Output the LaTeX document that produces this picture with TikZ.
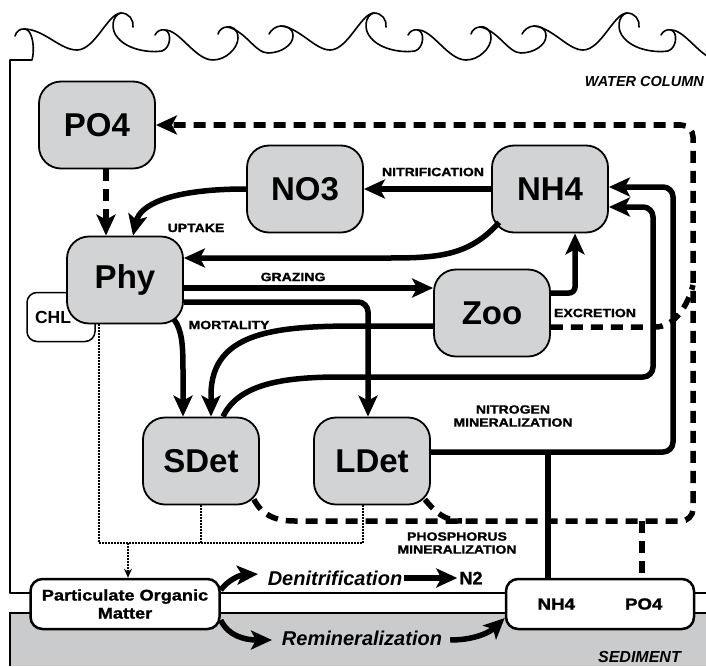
\documentclass[tikz,border=0pt]{standalone}
\usepackage{fontspec}
\setsansfont{Liberation Sans}
\newfontfamily\heavyfont[FakeBold=1.2]{Liberation Sans}
\newcommand{\widetxt}[1]{\scalebox{1.17}[1]{#1}}
\usetikzlibrary{arrows.meta}
\definecolor{boxgray}{RGB}{209,211,212}
\definecolor{sedgray}{RGB}{202,203,205}

\begin{document}
\begin{tikzpicture}[x=1pt,y=-1pt,
    pool/.style={draw, line width=1.8pt, fill=boxgray, rounded corners=22pt, minimum width=116pt, minimum height=87pt, inner sep=0pt, font={\sffamily\bfseries\fontsize{33}{33}\selectfont}},
    whitebox/.style={draw, line width=2.5pt, fill=white, rounded corners=12pt, inner sep=0pt, align=center},
    flux/.style={line width=5.5pt, -{Stealth[length=21pt,width=19pt,inset=5pt]}},
    pflux/.style={flux, dash pattern=on 12pt off 8pt},
    link/.style={line width=5.5pt},
    plink/.style={link, dash pattern=on 12pt off 8pt},
    pomline/.style={line width=1.5pt, dash pattern=on 1.5pt off 1.5pt},
    tag/.style={font={\heavyfont\bfseries\fontsize{12}{13}\selectfont}, align=center, inner sep=0pt},
    process/.style={font={\sffamily\bfseries\itshape\fontsize{20}{20}\selectfont}, inner sep=0pt},
    layer/.style={font={\sffamily\bfseries\itshape\fontsize{14.5}{15}\selectfont}, inner sep=0pt},
    wave/.style={line width=1.6pt, line cap=round, line join=round}
    ]
    \useasboundingbox (0,0) rectangle (706,666);

    % sediment and water column
    \fill[sedgray] (10,613) rectangle (706,666);
    \draw[line width=1.5pt] (706,613) -- (10,613) -- (10,666);
    \begin{scope}
    \clip (0,0) rectangle (706,666);
    \draw[wave] (706,593) -- (10,593) -- (10,60) -- (32,60) .. controls (35,50) and (33,30) .. (25,29) .. controls (20,28) and (16,32) .. (15,36);
    \draw[wave] (25,29) .. controls (45,30) and (60,50) .. (77,50);
    \foreach \s in {120,373,626} {
      \begin{scope}[xshift=\s pt]
      \draw[wave] (-43,50) .. controls (-25,50) and (-12,13) .. (1,13) .. controls (9,13) and (14,20) .. (13,27);
      \draw[wave] (1,13) .. controls (-8,15) and (-10,30) .. (-2,38) .. controls (8,50) and (30,53) .. (42,51) .. controls (51,48) and (52,32) .. (45,30) .. controls (41,29) and (37,31) .. (35,35);
      \draw[wave] (45,30) .. controls (60,30) and (75,60) .. (93,60) .. controls (106,60) and (118,48) .. (118,38) .. controls (118,29) and (112,26) .. (107,27) .. controls (103,27) and (99,30) .. (98,34);
      \draw[wave] (107,27) .. controls (125,30) and (135,53) .. (148,53) .. controls (161,53) and (173,45) .. (173,36) .. controls (173,28) and (167,26) .. (161,26) .. controls (156,26) and (151,30) .. (149,34);
      \draw[wave] (161,26) .. controls (180,28) and (195,50) .. (210,50);
      \end{scope}
    }
    \end{scope}
    \node[layer, anchor=east] (water) at (704,82) {WATER COLUMN};
    \node[layer, anchor=east, font={\sffamily\bfseries\itshape\fontsize{16}{16}\selectfont}] (sediment) at (681,657) {SEDIMENT};

    % pools
    \node[whitebox, rounded corners=10pt, line width=1.5pt, minimum width=68pt, minimum height=49pt, text width=52pt, inner sep=8pt, align=left, font={\sffamily\bfseries\fontsize{17.5}{18}\selectfont}] (CHL) at (61,317) {CHL};
    \node[pool] (PO4) at (97,125) {PO4};
    \node[pool] (NO3) at (305,189) {NO3};
    \node[pool] (NH4) at (550,189) {NH4};
    \node[pool] (Phy) at (125,280) {Phy};
    \node[pool] (Zoo) at (492,313) {Zoo};
    \node[pool] (SDet) at (201,461) {SDet};
    \node[pool] (LDet) at (372,461) {LDet};
    \node[whitebox, minimum width=189pt, minimum height=50pt, font={\heavyfont\bfseries\fontsize{15.5}{18}\selectfont}] (POM) at (125,604) {\widetxt{Particulate Organic}\\\widetxt{Matter}};
    \node[whitebox, minimum width=188pt, minimum height=50pt, font={\heavyfont\bfseries\fontsize{16}{16}\selectfont}] (SedBox) at (600,604) {\widetxt{NH4}\hspace{50pt}\widetxt{PO4}};

    % nitrogen fluxes
    \draw[flux] (NH4.west) -- (NO3.east);
    \draw[flux] (NO3.west) .. controls (170,189) and (140,205) .. ([xshift=8pt]Phy.north);
    \draw[flux] ([xshift=8pt,yshift=11pt]NH4.south west) .. controls (470,255) and (440,258) .. (390,258) -- ([yshift=22pt]Phy.east);
    \draw[flux] ([yshift=-8pt]Phy.east) -- ([yshift=-8pt]Phy.east -| Zoo.west);
    \draw[flux, rounded corners=10pt] ([yshift=-22pt]Phy.east) -- (368,302) -- ([xshift=-4pt]LDet.north);
    \draw[flux] ([xshift=49pt,yshift=5pt]Phy.south) .. controls (182,330) and (183,345) .. (183,370) -- ([xshift=-18pt]SDet.north);
    \draw[flux] ([yshift=-13pt]Zoo.west) -- (360,326) .. controls (280,326) and (211,330) .. (211,395) -- ([xshift=10pt]SDet.north);
    \draw[flux] ([xshift=22pt]SDet.north) .. controls (238,385) and (280,377) .. (340,377) [rounded corners=10pt] -- (653,377) -- (653,207) -- ([yshift=-18pt]NH4.east);
    \draw[flux, rounded corners=10pt] ([yshift=9pt]LDet.east) -- (673,452) -- (673,187) -- ([yshift=2pt]NH4.east);
    \draw[flux, rounded corners=6pt] ([yshift=20pt]Zoo.east) -- (575,293) -- ([xshift=25pt]NH4.south);
    \coordinate (nJoin) at (548,452);
    \draw[link] (nJoin) -- (548,0 |- SedBox.north);

    % phosphorus fluxes
    \draw[pflux] ([xshift=9pt]PO4.south) -- ([xshift=-19pt]Phy.north);
    \draw[pflux] ([xshift=-6pt,yshift=6pt]SDet.south east) .. controls (262,515) and (275,521) .. (295,521) [rounded corners=12pt] -- (693,521) -- (693,125) -- (PO4.east);
    \draw[plink] ([xshift=-6pt,yshift=6pt]LDet.south east) .. controls (435,512) and (445,521) .. (462,521);
    \coordinate (pJoin) at (642,521);
    \draw[plink] (pJoin) -- (642,0 |- SedBox.north);
    \coordinate (exJoin) at (693,285);
    \draw[plink] ([yshift=-14pt]Zoo.east) -- (655,327) .. controls (675,327) and (688,305) .. (exJoin);

    % sinking to the sediment
    \draw[pomline] ([xshift=-26pt]Phy.south) -- (99,543) -- (363,543) -- ([xshift=-9pt]LDet.south);
    \draw[pomline] (SDet.south) -- (SDet.south |- 0,543);
    \draw[pomline, -{Stealth[length=9pt,width=8pt]}] (128,543) -- ([xshift=3pt]POM.north);

    % sediment processes
    \node[process] (Denit) at (335,578) {Denitrification};
    \node[inner sep=0pt, font={\heavyfont\bfseries\fontsize{18}{18}\selectfont}] (N2) at (471,578) {N2};
    \node[process] (Remin) at (362,638) {Remineralization};
    \draw[flux] ([yshift=14pt]POM.east) .. controls (228,580) and (240,575) .. (258,574);
    \draw[flux] ([xshift=2pt]Denit.east) -- ([xshift=-2pt]N2.west);
    \draw[flux] ([yshift=-16pt]POM.east) .. controls (228,636) and (245,640) .. (272,640);
    \draw[flux] ([xshift=8pt,yshift=-2pt]Remin.east) .. controls (475,640) and (490,632) .. ([yshift=-14pt]SedBox.west);

    % process labels
    \node[tag] (nitrif) at (433,172) {\widetxt{NITRIFICATION}};
    \node[tag] (uptake) at (196,228) {\widetxt{UPTAKE}};
    \node[tag] (grazing) at (293,277) {\widetxt{GRAZING}};
    \node[tag] (mortality) at (229,325) {\widetxt{MORTALITY}};
    \node[tag] (excretion) at (595,313) {\widetxt{EXCRETION}};
    \node[tag] (nmin) at (513,416) {\widetxt{NITROGEN}\\\widetxt{MINERALIZATION}};
    \node[tag] (pmin) at (457,543) {\widetxt{PHOSPHORUS}\\\widetxt{MINERALIZATION}};
    %
\end{tikzpicture}
\end{document}
